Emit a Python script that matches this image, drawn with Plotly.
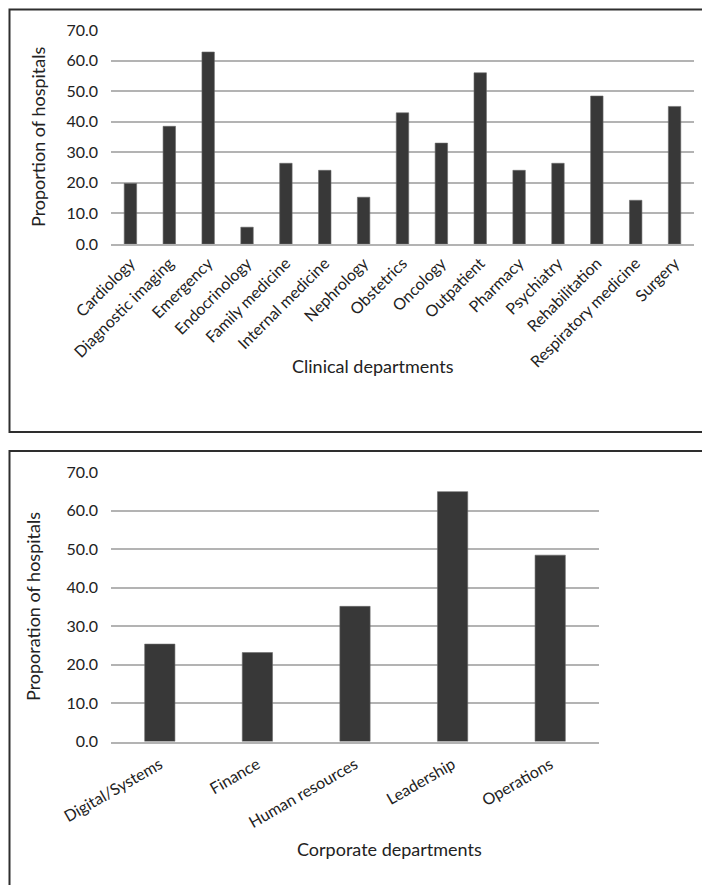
import plotly.graph_objects as go

clinical_departments = ["Cardiology", "Diagnostic imaging", "Emergency", "Endocrinology",
                        "Family medicine", "Internal medicine", "Nephrology", "Obstetrics",
                        "Oncology", "Outpatient", "Pharmacy", "Psychiatry", "Rehabilitation",
                        "Respiratory medicine", "Surgery"]
clinical_values = [19.8, 38.5, 62.8, 5.5, 26.4, 24.1, 15.3, 42.9, 33.0, 56.0, 24.1, 26.4,
                   48.4, 14.3, 45.0]

corporate_departments = ["Digital/Systems", "Finance", "Human resources", "Leadership", "Operations"]
corporate_values = [25.3, 23.1, 35.1, 64.9, 48.4]

y_ticks = [0, 10, 20, 30, 40, 50, 60, 70]

W, H = 710, 885
FONT = "Lato, 'Open Sans', sans-serif"
TXT = "#222222"
GRID = "#b3b3b3"
BAR = "#383838"


def px(x):
    return x / W


def py(y):
    return 1 - y / H


fig = go.Figure()
fig.add_trace(go.Bar(x=clinical_departments, y=clinical_values,
                     marker=dict(color=BAR, line=dict(color="#6a6a6a", width=0.6)),
                     xaxis="x", yaxis="y", width=0.32, hoverinfo="x+y"))
fig.add_trace(go.Bar(x=corporate_departments, y=corporate_values,
                     marker=dict(color=BAR, line=dict(color="#6a6a6a", width=0.6)),
                     xaxis="x2", yaxis="y2", width=0.31, hoverinfo="x+y"))

yaxis_common = dict(range=[0, 70], tickvals=y_ticks, ticktext=[f"{v:.1f}" for v in y_ticks],
                    showgrid=True, gridcolor=GRID, gridwidth=1.5, zeroline=False,
                    showline=False, ticks="", ticklabelstandoff=12, automargin=False,
                    tickfont=dict(family=FONT, size=16, color=TXT), fixedrange=True)

fig.update_layout(
    template="none",
    width=W, height=H,
    margin=dict(l=0, r=0, t=0, b=0, pad=0),
    paper_bgcolor="white", plot_bgcolor="white",
    showlegend=False,
    xaxis=dict(domain=[px(103), px(686)], anchor="y", tickangle=-45, ticks="", automargin=False,
               showline=True, linecolor=GRID, linewidth=1.5, showgrid=False, zeroline=False,
               tickfont=dict(family=FONT, size=16, color=TXT), ticklabelstandoff=2),
    yaxis=dict(domain=[py(236), py(22)], anchor="x", **yaxis_common),
    xaxis2=dict(domain=[px(103), px(591)], anchor="y2", tickangle=-30, ticks="", automargin=False,
                showline=True, linecolor=GRID, linewidth=1.5, showgrid=False, zeroline=False,
                tickfont=dict(family=FONT, size=16, color=TXT), ticklabelstandoff=6),
    yaxis2=dict(domain=[py(733.5), py(464)], anchor="x2", **yaxis_common),
)

# panel borders
fig.add_shape(type="rect", xref="paper", yref="paper", x0=px(1.5), x1=px(705.5), y0=py(424), y1=py(1.5),
              line=dict(color="#2e2e2e", width=2), fillcolor="rgba(0,0,0,0)", layer="below")
fig.add_shape(type="rect", xref="paper", yref="paper", x0=px(1.5), x1=px(707), y0=py(883.5), y1=py(443),
              line=dict(color="#2e2e2e", width=2), fillcolor="rgba(0,0,0,0)", layer="below")

# axis titles
fig.add_annotation(text="Proportion of hospitals", xref="paper", yref="paper", x=px(30), y=py(129),
                   textangle=-90, showarrow=False, xanchor="center", yanchor="middle",
                   font=dict(family=FONT, size=18, color=TXT))
fig.add_annotation(text="Clinical departments", xref="paper", yref="paper", x=px(365), y=py(358),
                   showarrow=False, xanchor="center", yanchor="middle",
                   font=dict(family=FONT, size=18, color=TXT))
fig.add_annotation(text="Proporation of hospitals", xref="paper", yref="paper", x=px(25), y=py(599),
                   textangle=-90, showarrow=False, xanchor="center", yanchor="middle",
                   font=dict(family=FONT, size=18, color=TXT))
fig.add_annotation(text="Corporate departments", xref="paper", yref="paper", x=px(382), y=py(841),
                   showarrow=False, xanchor="center", yanchor="middle",
                   font=dict(family=FONT, size=18, color=TXT))

fig.write_html("out.html")
